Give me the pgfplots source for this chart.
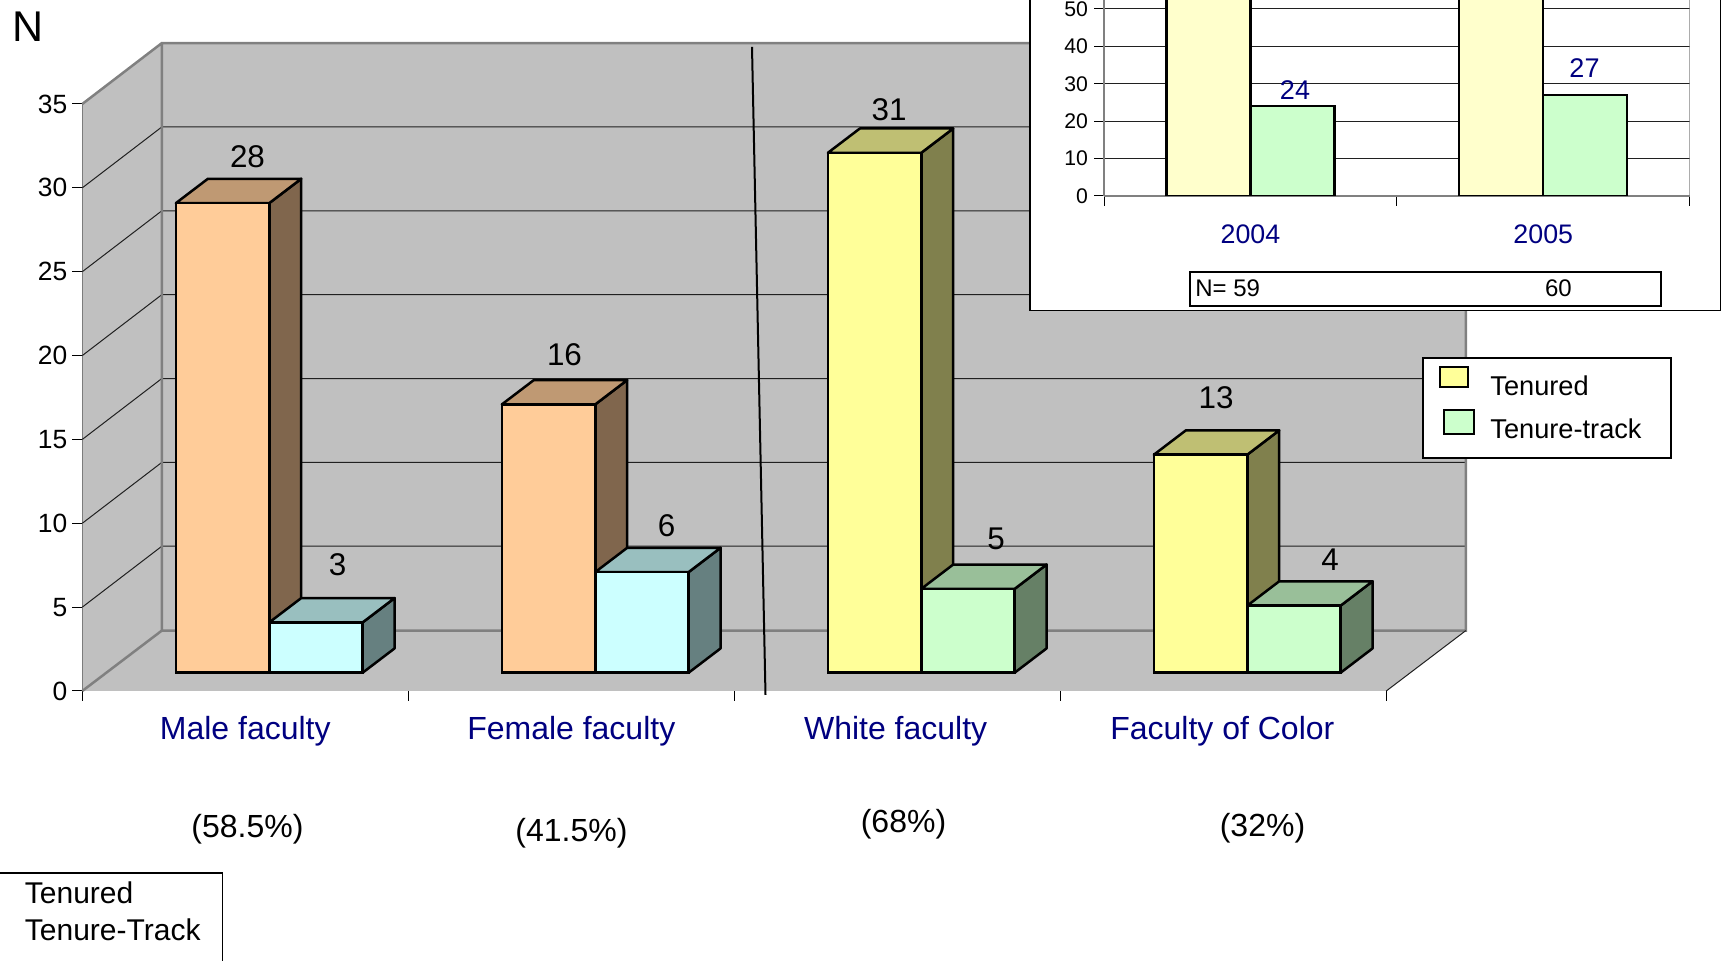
\documentclass[border=0pt]{standalone}
\usepackage{fontspec}
\setmainfont{Liberation Sans}
\usepackage{pgfplots}
\pgfplotsset{compat=1.18}
\definecolor{wall}{HTML}{C0C0C0}
\definecolor{wallline}{HTML}{808080}
\definecolor{gridc}{HTML}{202020}
\definecolor{navy}{HTML}{000080}
\definecolor{peachF}{HTML}{FFCC99}\definecolor{peachT}{HTML}{BF9973}\definecolor{peachS}{HTML}{80664D}
\definecolor{cyanF}{HTML}{CCFFFF}\definecolor{cyanT}{HTML}{99BFBF}\definecolor{cyanS}{HTML}{668080}
\definecolor{yelF}{HTML}{FFFF99}\definecolor{yelT}{HTML}{BFBF73}\definecolor{yelS}{HTML}{80804D}
\definecolor{grnF}{HTML}{CCFFCC}\definecolor{grnT}{HTML}{99BF99}\definecolor{grnS}{HTML}{668066}
\definecolor{insetY}{HTML}{FFFFCC}
\newcommand\PX[2]{({(#1)*0.5pt},{(961-(#2))*0.5pt})}
\newcommand\fs[1]{\fontsize{#1}{#1}\selectfont}
% side and top faces of a bar: #1 centre of category, #2 -1/+1 side, #3 value, #4 colour stem
\newcommand\cubefaces[4]{%
  \pgfmathsetmacro\xl{#1+0.0736+(#2-1)*0.1432}%
  \pgfmathsetmacro\xr{\xl+0.2864}%
  \pgfmathsetmacro\xrb{\xr+0.098}%
  \pgfmathsetmacro\xlb{\xl+0.098}%
  \pgfmathsetmacro\yt{#3+1.09}%
  \pgfmathsetmacro\ytb{#3+2.54}%
  \addplot[fill=#4S,draw=black,line width=1.25pt,line join=round] coordinates {(\xr,1.09)(\xrb,2.54)(\xrb,\ytb)(\xr,\yt)} --cycle;
  \addplot[fill=#4T,draw=black,line width=1.25pt,line join=round] coordinates {(\xl,\yt)(\xlb,\ytb)(\xrb,\ytb)(\xr,\yt)} --cycle;
}
\newcommand\gridline[1]{%
  \pgfmathsetmacro\yb{#1+3.63}%
  \addplot[gridc,line width=0.5pt] coordinates {(0,#1)(0.2439,\yb)(4.2439,\yb)};
}
\begin{document}
\begin{tikzpicture}
\useasboundingbox (0,0) rectangle (860.5pt,480.5pt);
\begin{axis}[
  at={(41.15pt,135pt)},anchor=south west,
  scale only axis,width=652pt,height=293.5pt,
  xmin=0,xmax=4,ymin=0,ymax=35,clip=false,
  axis x line=bottom,axis y line=left,axis line style={-,black,line width=0.5pt},
  xtick={0,1,2,3,4},xticklabels={},
  ytick={0,5,...,35},
  tick style={black,line width=0.5pt},tick align=outside,major tick length=5pt,
  /pgf/number format/assume math mode=true,
  yticklabel style={font=\fs{13.2},xshift=1pt},
  extra x ticks={0.5,1.5,2.495,3.497},
  extra x tick labels={Male faculty,Female faculty,White faculty,Faculty of Color},
  extra x tick style={major tick length=0pt,xticklabel style={font=\fs{16},text=navy,yshift=-9pt}},
]
% walls and floor
\addplot[fill=wall,draw=none] coordinates {(0,0)(0.2439,3.6)(0.2439,38.63)(0,35)} --cycle;
\addplot[fill=wall,draw=none] coordinates {(0.2439,3.6)(4.2439,3.6)(4.2439,38.63)(0.2439,38.63)} --cycle;
\addplot[fill=wall,draw=none] coordinates {(0,0)(4,0)(4.2439,3.6)(0.2439,3.6)} --cycle;
\gridline{5}\gridline{10}\gridline{15}\gridline{20}\gridline{25}\gridline{30}
\addplot[wallline,line width=1.25pt] coordinates {(0,35)(0.2439,38.63)(4.2439,38.63)(4.2439,3.6)(0.2439,3.6)(0.2439,38.63)};
\addplot[wallline,line width=1.25pt] coordinates {(0,0)(0.2439,3.6)};
\addplot[gridc,line width=0.5pt] coordinates {(4,0)(4.2439,3.6)};
% bars: side and top faces
\cubefaces{0.5}{-1}{28}{peach}\cubefaces{0.5}{1}{3}{cyan}
\cubefaces{1.5}{-1}{16}{peach}\cubefaces{1.5}{1}{6}{cyan}
\cubefaces{2.5}{-1}{31}{yel}\cubefaces{2.5}{1}{5}{grn}
\cubefaces{3.5}{-1}{13}{yel}\cubefaces{3.5}{1}{4}{grn}
% bars: front faces
\addplot[ybar,bar width=46.67pt,bar shift=-23.33pt,xshift=12pt,yshift=9.15pt,fill=peachF,draw=black,line width=1.25pt] coordinates {(0.5,28)(1.5,16)};
\addplot[ybar,bar width=46.67pt,bar shift=23.33pt,xshift=12pt,yshift=9.15pt,fill=cyanF,draw=black,line width=1.25pt] coordinates {(0.5,3)(1.5,6)};
\addplot[ybar,bar width=46.67pt,bar shift=-23.33pt,xshift=12pt,yshift=9.15pt,fill=yelF,draw=black,line width=1.25pt] coordinates {(2.5,31)(3.5,13)};
\addplot[ybar,bar width=46.67pt,bar shift=23.33pt,xshift=12pt,yshift=9.15pt,fill=grnF,draw=black,line width=1.25pt] coordinates {(2.5,5)(3.5,4)};
\end{axis}
% data labels and annotations
\begin{scope}[every node/.style={font=\fs{15.7},inner sep=0pt}]
\node at \PX{247.5}{157} {28};
\node at \PX{337.5}{565} {3};
\node at \PX{564.5}{354.5} {16};
\node at \PX{666.5}{526} {6};
\node at \PX{889}{110} {31};
\node at \PX{996}{538.5} {5};
\node at \PX{1216}{398} {13};
\node at \PX{1330}{560} {4};
\end{scope}
\begin{scope}[every node/.style={font=\fs{16},inner sep=0pt}]
\node at \PX{247.5}{829} {(58.5\%)};
\node at \PX{571.5}{833} {(41.5\%)};
\node at \PX{903.5}{824} {(68\%)};
\node at \PX{1262.5}{828} {(32\%)};
\end{scope}
\node[font=\fs{21.5},inner sep=0pt] at \PX{28}{26.5} {N};
\draw[black,line width=1pt] \PX{752}{47} -- \PX{765.5}{695};
% lower left box
\draw[black,line width=0.75pt,fill=white] \PX{-10}{873} rectangle \PX{222.7}{975};
\node[font=\fs{15},inner sep=0pt,anchor=west] at \PX{24.5}{892.5} {Tenured};
\node[font=\fs{15},inner sep=0pt,anchor=west] at \PX{24.5}{929.5} {Tenure-Track};
% inset panel
\draw[black,line width=0.75pt,fill=white] \PX{1030}{-10} rectangle \PX{1720.5}{310.5};
\begin{axis}[
  at={(552pt,382.5pt)},anchor=south west,
  scale only axis,width=292.85pt,height=98pt,
  xmin=0,xmax=2,ymin=0,ymax=52.4,clip=true,
  axis x line=bottom,axis y line=left,axis line style={-,wallline,line width=1pt},
  xtick={0,1,2},xticklabels={},
  ytick={0,10,...,50},
  ymajorgrids,grid style={gridc,line width=0.5pt},
  tick style={black,line width=0.5pt},tick align=outside,major tick length=5pt,
  /pgf/number format/assume math mode=true,
  yticklabel style={font=\fs{10.6},xshift=0.5pt},
  extra x ticks={0.5,1.5},
  extra x tick labels={2004,2005},
  extra x tick style={major tick length=0pt,xticklabel style={font=\fs{13.4},text=navy,yshift=-11pt}},
]
\addplot[wallline,line width=1pt] coordinates {(2,0)(2,52.4)};
\addplot[ybar,bar width=42pt,bar shift=-21pt,fill=insetY,draw=black,line width=1.1pt] coordinates {(0.5,59)(1.5,60)};
\addplot[ybar,bar width=42pt,bar shift=21pt,fill=grnF,draw=black,line width=1.1pt] coordinates {(0.5,24)(1.5,27)};
\end{axis}
\node[font=\fs{13.5},text=navy,inner sep=0pt] at \PX{1295}{90} {24};
\node[font=\fs{13.5},text=navy,inner sep=0pt] at \PX{1584.5}{68} {27};
\draw[black,line width=1pt,fill=white] \PX{1189.7}{271.8} rectangle \PX{1661}{306.5};
\node[font=\fs{12},inner sep=0pt,anchor=west] at \PX{1195}{288} {N= 59};
\node[font=\fs{12},inner sep=0pt,anchor=west] at \PX{1544.7}{288} {60};
% legend
\draw[black,line width=1pt,fill=white] \PX{1423}{357.8} rectangle \PX{1670.8}{457.8};
\draw[black,line width=1pt,fill=yelF] \PX{1439.7}{367} rectangle \PX{1468}{387.3};
\draw[black,line width=1pt,fill=grnF] \PX{1443.8}{410} rectangle \PX{1474.2}{434};
\node[font=\fs{13.6},inner sep=0pt,anchor=west] at \PX{1490}{385.7} {Tenured};
\node[font=\fs{13.6},inner sep=0pt,anchor=west] at \PX{1490}{428.7} {Tenure-track};
\end{tikzpicture}
\end{document}
